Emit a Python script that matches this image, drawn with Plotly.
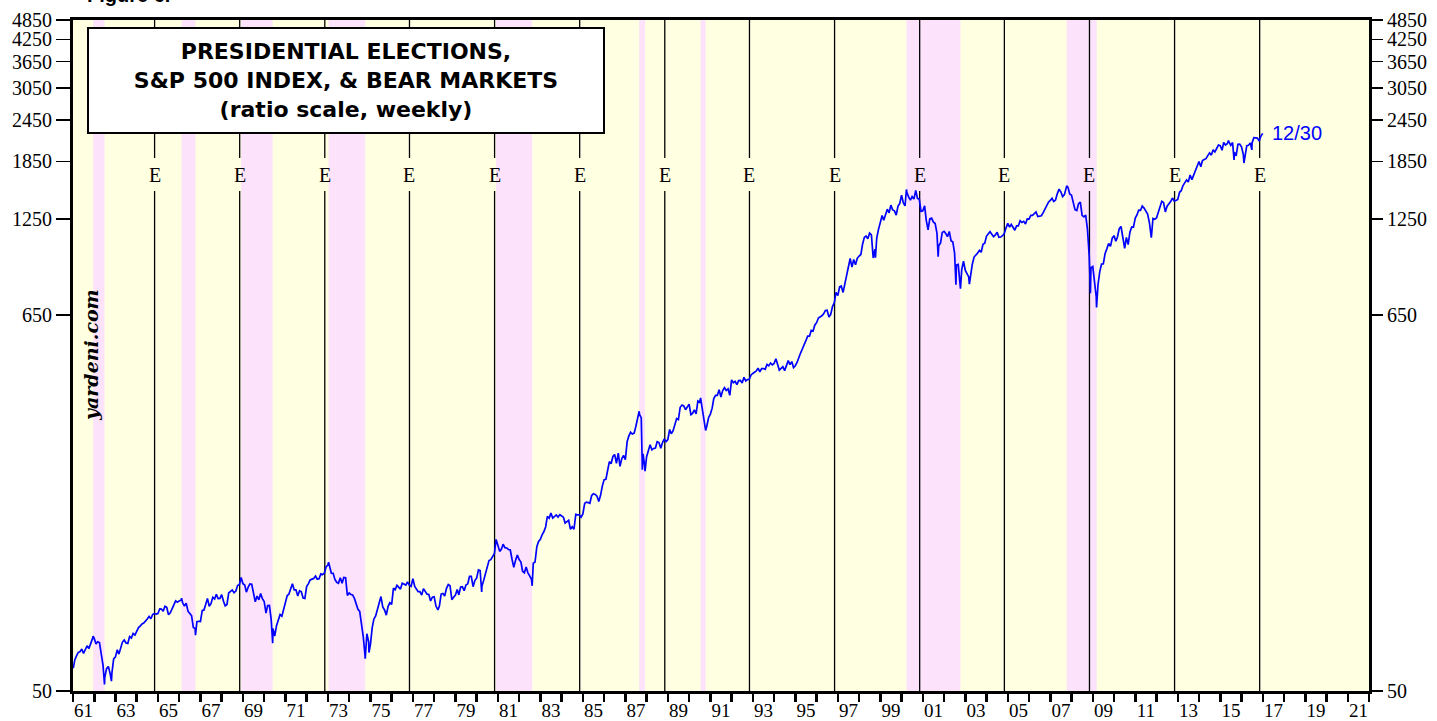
import math
import pandas as pd
import plotly.graph_objects as go

# ---------------- data ----------------
start_year = 1961
# S&P 500 month-end closes, Jan 1961 .. Dec 2016 (12 per row)
sp500_month_end = [
    61.78, 63.44, 65.06, 65.31, 66.56, 64.64, 66.76, 68.07, 66.73, 68.62, 71.32, 71.55,
    68.84, 69.96, 69.55, 65.24, 59.63, 54.75, 58.23, 59.12, 56.27, 56.52, 62.26, 63.10,
    66.20, 64.29, 66.57, 69.80, 70.80, 69.37, 69.13, 72.50, 71.70, 74.01, 73.23, 75.02,
    77.04, 77.80, 78.98, 79.46, 80.37, 81.69, 83.18, 81.83, 84.18, 84.86, 84.42, 84.75,
    87.56, 87.43, 86.16, 89.11, 88.42, 84.12, 85.25, 87.17, 89.96, 92.42, 91.61, 92.43,
    92.88, 91.22, 89.23, 91.06, 86.13, 84.74, 83.60, 77.10, 76.56, 80.20, 80.45, 80.33,
    86.61, 86.78, 90.20, 94.01, 89.08, 90.64, 94.75, 93.64, 96.71, 93.90, 94.00, 96.47,
    92.24, 89.36, 90.20, 97.59, 98.68, 99.58, 97.74, 98.86, 102.67, 103.41, 108.37, 103.86,
    103.01, 98.13, 101.51, 103.69, 103.46, 97.71, 91.83, 95.51, 93.12, 97.24, 93.81, 92.06,
    85.02, 89.50, 89.63, 81.52, 76.55, 72.72, 78.05, 81.52, 84.21, 83.25, 87.20, 92.15,
    95.88, 96.75, 100.31, 103.95, 99.63, 99.70, 95.58, 99.03, 98.34, 94.23, 93.99, 102.09,
    103.94, 106.57, 107.20, 107.67, 109.53, 107.14, 107.39, 111.09, 110.55, 111.58, 116.67, 118.05,
    116.03, 111.68, 111.52, 106.97, 104.95, 104.26, 108.22, 104.25, 108.43, 108.29, 95.96, 97.55,
    96.57, 96.22, 93.98, 90.31, 87.28, 86.00, 79.31, 72.15, 63.54, 73.90, 69.97, 68.56,
    76.98, 81.59, 83.36, 87.30, 91.15, 95.19, 88.75, 86.88, 83.87, 89.04, 91.24, 90.19,
    100.86, 99.71, 102.77, 101.64, 100.18, 104.28, 103.44, 102.91, 105.24, 102.90, 102.10, 107.46,
    102.03, 99.82, 98.42, 98.44, 96.12, 100.48, 98.85, 96.77, 96.53, 92.34, 94.83, 95.10,
    89.25, 87.04, 89.21, 96.83, 97.24, 95.53, 100.68, 103.29, 102.54, 93.15, 94.70, 96.11,
    99.93, 96.28, 101.59, 101.76, 99.08, 102.91, 103.81, 109.32, 109.32, 101.82, 106.16, 107.94,
    114.16, 113.66, 102.09, 106.29, 111.24, 114.24, 121.67, 122.38, 125.46, 127.47, 140.52, 135.76,
    129.55, 131.27, 136.00, 132.81, 132.59, 131.21, 130.92, 122.79, 116.18, 121.89, 126.35, 122.55,
    120.40, 113.11, 111.96, 116.44, 111.88, 109.61, 107.09, 119.51, 120.42, 133.71, 138.54, 140.64,
    145.30, 148.06, 152.96, 164.42, 162.39, 168.11, 162.56, 164.40, 166.07, 163.55, 166.40, 164.93,
    163.41, 157.06, 159.18, 160.05, 150.55, 153.18, 150.66, 166.68, 166.10, 166.09, 163.58, 167.24,
    179.63, 181.18, 180.66, 179.83, 189.55, 191.85, 190.92, 188.63, 182.08, 189.82, 202.17, 211.28,
    211.78, 226.92, 238.90, 235.52, 247.35, 250.84, 236.12, 252.93, 231.32, 243.98, 249.22, 242.17,
    274.08, 284.20, 291.70, 288.36, 290.10, 304.00, 318.66, 329.80, 321.83, 251.79, 230.30, 247.08,
    257.07, 267.82, 258.89, 261.33, 262.16, 273.50, 272.02, 261.52, 271.91, 278.97, 273.70, 277.72,
    297.47, 288.86, 294.87, 309.64, 320.52, 317.98, 346.08, 351.45, 349.15, 340.36, 345.99, 353.40,
    329.08, 331.89, 339.94, 330.80, 361.23, 358.02, 356.15, 322.56, 306.05, 304.00, 322.22, 330.22,
    343.93, 367.07, 375.22, 375.35, 389.83, 371.16, 387.81, 395.43, 387.86, 392.46, 375.22, 417.09,
    408.79, 412.70, 403.69, 414.95, 415.35, 408.14, 424.21, 414.03, 417.80, 418.68, 431.35, 435.71,
    438.78, 443.38, 451.67, 440.19, 450.19, 450.53, 448.13, 463.56, 458.93, 467.83, 461.79, 466.45,
    481.61, 467.14, 445.77, 450.91, 456.50, 444.27, 458.26, 475.49, 462.69, 472.35, 453.69, 459.27,
    470.42, 487.39, 500.71, 514.71, 533.40, 544.75, 562.06, 561.88, 584.41, 581.50, 605.37, 615.93,
    636.02, 640.43, 645.50, 654.17, 669.12, 670.63, 639.95, 651.99, 687.31, 705.27, 757.02, 740.74,
    786.16, 790.82, 757.12, 801.34, 848.28, 885.14, 954.29, 899.47, 947.28, 914.62, 955.40, 970.43,
    980.28, 1049.34, 1101.75, 1111.75, 1090.82, 1133.84, 1120.67, 957.28, 1017.01, 1098.67, 1163.63, 1229.23,
    1279.64, 1238.33, 1286.37, 1335.18, 1301.84, 1372.71, 1328.72, 1320.41, 1282.71, 1362.93, 1388.91, 1469.25,
    1394.46, 1366.42, 1498.58, 1452.43, 1420.60, 1454.60, 1430.83, 1517.68, 1436.51, 1429.40, 1314.95, 1320.28,
    1366.01, 1239.94, 1160.33, 1249.46, 1255.82, 1224.42, 1211.23, 1133.58, 1040.94, 1059.78, 1139.45, 1148.08,
    1130.20, 1106.73, 1147.39, 1076.92, 1067.14, 989.82, 911.62, 916.07, 815.28, 885.76, 936.31, 879.82,
    855.70, 841.15, 848.18, 916.92, 963.59, 974.50, 990.31, 1008.01, 995.97, 1050.71, 1058.20, 1111.92,
    1131.13, 1144.94, 1126.21, 1107.30, 1120.68, 1140.84, 1101.72, 1104.24, 1114.58, 1130.20, 1173.82, 1211.92,
    1181.27, 1203.60, 1180.59, 1156.85, 1191.50, 1191.33, 1234.18, 1220.33, 1228.81, 1207.01, 1249.48, 1248.29,
    1280.08, 1280.66, 1294.83, 1310.61, 1270.09, 1270.20, 1276.66, 1303.82, 1335.85, 1377.94, 1400.63, 1418.30,
    1438.24, 1406.82, 1420.86, 1482.37, 1530.62, 1503.35, 1455.27, 1473.99, 1526.75, 1549.38, 1481.14, 1468.36,
    1378.55, 1330.63, 1322.70, 1385.59, 1400.38, 1280.00, 1267.38, 1282.83, 1166.36, 968.75, 896.24, 903.25,
    825.88, 735.09, 797.87, 872.81, 919.14, 919.32, 987.48, 1020.62, 1057.08, 1036.19, 1095.63, 1115.10,
    1073.87, 1104.49, 1169.43, 1186.69, 1089.41, 1030.71, 1101.60, 1049.33, 1141.20, 1183.26, 1180.55, 1257.64,
    1286.12, 1327.22, 1325.83, 1363.61, 1345.20, 1320.64, 1292.28, 1218.89, 1131.42, 1253.30, 1246.96, 1257.60,
    1312.41, 1365.68, 1408.47, 1397.91, 1310.33, 1362.16, 1379.32, 1406.58, 1440.67, 1412.16, 1416.18, 1426.19,
    1498.11, 1514.68, 1569.19, 1597.57, 1630.74, 1606.28, 1685.73, 1632.97, 1681.55, 1756.54, 1805.81, 1848.36,
    1782.59, 1859.45, 1872.34, 1883.95, 1923.57, 1960.23, 1930.67, 2003.37, 1972.29, 2018.05, 2067.56, 2058.90,
    1994.99, 2104.50, 2067.89, 2085.51, 2107.39, 2063.11, 2103.84, 1972.18, 1920.03, 2079.36, 2080.41, 2043.94,
    1940.24, 1932.23, 2059.74, 2065.30, 2096.95, 2098.86, 2173.60, 2170.95, 2168.27, 2126.15, 2198.81, 2238.83,
]

# weekly turning points (date, level)
turn_dates = [
    "1961-01-06", "1961-12-12", "1962-06-26", "1962-10-23", "1966-02-09", "1966-10-07",
    "1970-05-26", "1973-01-11", "1974-10-03", "1974-12-06", "1978-03-06", "1980-03-27",
    "1982-08-12", "1987-08-25", "1987-10-19", "1987-12-04", "1990-07-16", "1990-10-11",
    "1998-10-08", "2000-03-24", "2001-09-21", "2002-07-23", "2002-10-09", "2003-03-11",
    "2007-10-09", "2008-11-20", "2009-03-06", "2010-07-02", "2011-10-03", "2015-05-21",
    "2015-08-25", "2016-02-11", "2016-06-27",
]
turn_values = [
    58.4, 72.64, 52.32, 53.49, 94.06, 73.20,
    69.29, 120.24, 62.28, 65.01, 86.90, 98.22,
    102.42, 336.77, 226.0, 223.92, 368.95, 295.46,
    959.44, 1527.46, 965.80, 797.70, 776.76, 800.73,
    1565.15, 752.44, 683.38, 1022.58, 1099.23, 2130.82,
    1867.61, 1829.08, 2000.54,
]

election_dates = ["1964-11-03", "1968-11-05", "1972-11-07", "1976-11-02", "1980-11-04",
                  "1984-11-06", "1988-11-08", "1992-11-03", "1996-11-05", "2000-11-07",
                  "2004-11-02", "2008-11-04", "2012-11-06", "2016-11-08"]

bear_starts = ["1961-12-12", "1966-02-09", "1968-11-29", "1973-01-11", "1980-11-28",
               "1987-08-25", "1990-07-16", "2000-03-24", "2007-10-09"]
bear_ends = ["1962-06-26", "1966-10-07", "1970-05-26", "1974-10-03", "1982-08-12",
             "1987-12-04", "1990-10-11", "2002-10-09", "2009-03-09"]

y_ticks = [50, 650, 1250, 1850, 2450, 3050, 3650, 4250, 4850]
x_first_year, x_last_year = 1961, 2021
last_label = "12/30"


def dec_year(d):
    t = pd.Timestamp(d)
    days = 366 if t.is_leap_year else 365
    return t.year + (t.dayofyear - 0.5) / days


month_dates = [pd.Timestamp(start_year + i // 12, i % 12 + 1, 1) + pd.offsets.MonthEnd(0)
               for i in range(len(sp500_month_end))]
pts = [(dec_year(d), v) for d, v in zip(month_dates, sp500_month_end)]
pts += [(dec_year(d), v) for d, v in zip(turn_dates, turn_values)]
pts.sort()
xs = [p[0] for p in pts]
ys = [p[1] for p in pts]

# ---------------- geometry (page pixels) ----------------
W, H = 1437, 721
PL, PR, PT, PB = 73, 1369, 20, 691


def px(xp):
    return (xp - PL) / (PR - PL)


def py(yp):
    return (PB - yp) / (PB - PT)


SERIF = "Liberation Serif, Times New Roman, serif"
SERIF_WIDE = "DejaVu Serif, serif"
SANS_WIDE = "DejaVu Sans, Arial, sans-serif"
SANS = "Liberation Sans, Arial, Helvetica, sans-serif"
BLUE = "#0000FF"
YELLOW = "#FFFFE1"
PINK = "#FCE3FB"

fig = go.Figure()
fig.add_trace(go.Scatter(x=xs, y=ys, mode="lines", line=dict(color=BLUE, width=1.7),
                         hoverinfo="skip", showlegend=False))
fig.add_trace(go.Scatter(x=xs[:1], y=ys[:1], xaxis="x2", yaxis="y2", mode="markers",
                         marker=dict(opacity=0), hoverinfo="skip", showlegend=False))

shapes = []
for s, e in zip(bear_starts, bear_ends):
    shapes.append(dict(type="rect", xref="x", yref="paper", x0=dec_year(s), x1=dec_year(e),
                       y0=0, y1=1, fillcolor=PINK, line=dict(width=0), layer="below"))
gap_top, gap_bot = py(158), py(191)
annotations = []
for d in election_dates:
    xe = dec_year(d)
    shapes.append(dict(type="line", xref="x", yref="paper", x0=xe, x1=xe, y0=gap_top, y1=1,
                       line=dict(color="black", width=1.3), layer="below"))
    shapes.append(dict(type="line", xref="x", yref="paper", x0=xe, x1=xe, y0=0, y1=gap_bot,
                       line=dict(color="black", width=1.3), layer="below"))
    annotations.append(dict(x=xe, y=py(175), xref="x", yref="paper", text="E", showarrow=False,
                            font=dict(family=SERIF, size=20, color="black"),
                            xanchor="center", yanchor="middle"))

annotations.append(dict(
    x=px(346), y=py(80.5), xref="paper", yref="paper", showarrow=False,
    text="<b>PRESIDENTIAL ELECTIONS,<br>S&amp;P 500 INDEX, &amp; BEAR MARKETS<br>(ratio scale, weekly)</b>",
    font=dict(family=SANS_WIDE, size=22, color="black"), align="center",
    bgcolor="white", bordercolor="black", borderwidth=2, borderpad=1,
    width=512, height=101, xanchor="center", yanchor="middle"))
annotations.append(dict(
    x=px(91), y=py(355), xref="paper", yref="paper", showarrow=False, textangle=-90,
    text="<b><i>yardeni.com</i></b>", font=dict(family=SERIF_WIDE, size=19, color="black"),
    xanchor="center", yanchor="middle"))
annotations.append(dict(
    x=px(1270), y=py(133), xref="paper", yref="paper", showarrow=False, text=last_label,
    font=dict(family=SANS, size=20, color=BLUE), xanchor="left", yanchor="middle"))
annotations.append(dict(
    x=px(85), y=py(8), xref="paper", yref="paper", showarrow=False, text="<b>Figure 6.</b>",
    font=dict(family=SANS, size=20, color="black"), xanchor="left", yanchor="bottom"))

year_ticks = list(range(x_first_year, x_last_year + 2))
label_pos = [y + 0.5 for y in range(x_first_year, x_last_year + 1, 2)]
label_txt = [f"{y % 100:02d}" for y in range(x_first_year, x_last_year + 1, 2)]
xr = [x_first_year, x_last_year + 1]
yr = [math.log10(y_ticks[0]), math.log10(y_ticks[-1])]
ytxt = [str(v) for v in y_ticks]

fig.update_layout(
    width=W, height=H, autosize=False,
    margin=dict(l=PL, r=W - PR, t=PT, b=H - PB, pad=0, autoexpand=False),
    paper_bgcolor="white", plot_bgcolor=YELLOW,
    showlegend=False, shapes=shapes, annotations=annotations,
    xaxis=dict(range=xr, tickmode="array", tickvals=year_ticks, showticklabels=False,
               ticks="outside", ticklen=8, tickwidth=2.5, tickcolor="black",
               showline=True, linewidth=3, linecolor="black", mirror=True, automargin=False,
               showgrid=False, zeroline=False, fixedrange=True),
    xaxis2=dict(range=xr, overlaying="x", anchor="y", side="bottom", tickmode="array",
                tickvals=label_pos, ticktext=label_txt, ticks="outside", ticklen=2,
                tickcolor="rgba(0,0,0,0)", tickfont=dict(family=SERIF, size=19, color="black"),
                showline=False, showgrid=False, zeroline=False, fixedrange=True,
                automargin=False),
    yaxis=dict(type="log", range=yr, tickmode="array", tickvals=y_ticks, ticktext=ytxt,
               ticks="outside", ticklen=14, tickwidth=1.5, tickcolor="black",
               tickfont=dict(family=SERIF, size=20, color="black"), automargin=False,
               showline=True, linewidth=3, linecolor="black", mirror=True,
               showgrid=False, zeroline=False, fixedrange=True),
    yaxis2=dict(type="log", range=yr, overlaying="y", anchor="x", side="right",
                tickmode="array", tickvals=y_ticks, ticktext=ytxt,
                ticks="outside", ticklen=13, tickwidth=1.5, tickcolor="black",
                tickfont=dict(family=SERIF, size=20, color="black"), automargin=False,
                showline=False, showgrid=False, zeroline=False, fixedrange=True),
)

fig.write_html("out.html", config={"displayModeBar": False, "staticPlot": True},
               post_script="document.body.style.margin='0px';")
